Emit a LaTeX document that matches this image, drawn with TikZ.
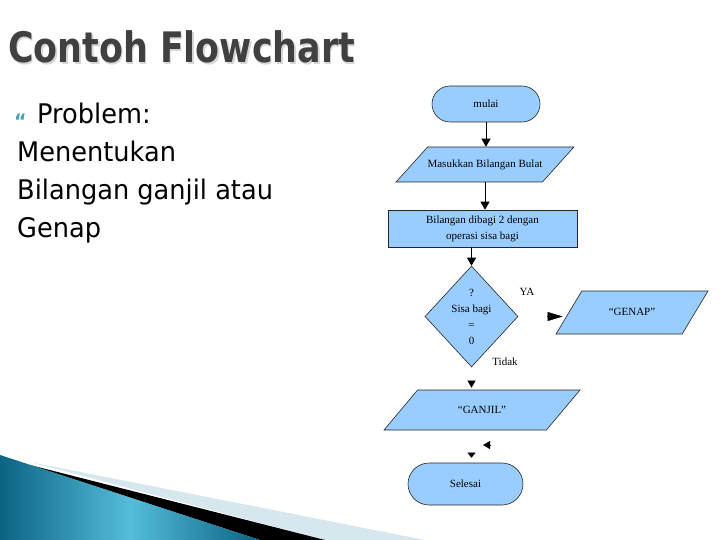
\documentclass[tikz,border=0pt]{standalone}
\usepackage{fontspec}
\setmainfont{Liberation Serif}
\newfontfamily\titlefont[FakeStretch=0.83]{DejaVu Sans}
\newfontfamily\bodyfont[FakeStretch=0.95]{DejaVu Sans}
\usepackage{xcolor}
\definecolor{boxblue}{RGB}{153, 204, 255}
\definecolor{titlegray}{RGB}{64, 64, 64}
\definecolor{shadowgray}{RGB}{215, 215, 215}
\definecolor{bulletteal}{RGB}{72, 160, 178}
\definecolor{tealdark}{RGB}{10, 100, 130}
\definecolor{teallight}{RGB}{85, 188, 218}
\definecolor{bandlight}{RGB}{214, 232, 238}
\usetikzlibrary{arrows.meta, shapes.geometric, shapes.misc}

\tikzset{
  chart/.style={draw=black!85, fill=boxblue, line width=0.6pt, inner sep=0pt,
    align=center, font=\fontsize{11}{16}\selectfont},
  terminal/.style={chart, rounded rectangle},
  iobox/.style={chart, trapezium, trapezium stretches body, text height=8pt, text depth=2pt},
  process/.style={chart, rectangle},
  decision/.style={chart, diamond},
  lbl/.style={font=\fontsize{11}{13}\selectfont, inner sep=0pt},
  arr/.style={-{Triangle[length=8pt, width=9pt]}, line width=0.8pt},
  bodytext/.style={anchor=base west, inner sep=0pt, font=\bodyfont\fontsize{27}{32}\selectfont}
}

\begin{document}
\begin{tikzpicture}[x=1pt, y=-1pt]
    \useasboundingbox (0,0) rectangle (720,540);
    \fill[white] (0,0) rectangle (720,540);

    % corner swoosh
    \fill[bandlight] (30,462) -- (425,540) -- (325,540) -- cycle;
    \fill[black] (30,465) -- (325,540) -- (260,540) -- cycle;
    \shade[left color=tealdark, right color=tealdark, middle color=teallight]
        (0,455) -- (260,540) -- (0,540) -- cycle;

    % heading and problem text
    \node[anchor=base west, inner sep=0pt, text=titlegray, font=\titlefont\bfseries\fontsize{42}{48}\selectfont]
        (title) at (8,63)
        {\makebox[0pt][l]{\hspace{1.5pt}\raisebox{-1.5pt}{\color{shadowgray}Contoh Flowchart}}Contoh Flowchart};
    \node[anchor=base west, inner sep=0pt, text=bulletteal, font=\bodyfont\bfseries\fontsize{20}{20}\selectfont]
        (bullet) at (14,129) {“};
    \node[bodytext] (problem) at (37,124) {Problem:};
    \node[bodytext] (line1) at (17,162) {Menentukan};
    \node[bodytext] (line2) at (17,200) {Bilangan ganjil atau};
    \node[bodytext] (line3) at (17,237) {Genap};

    % flowchart
    \node[terminal, minimum width=108pt, minimum height=36pt] (mulai) at (486,104) {mulai};
    \node[iobox, trapezium left angle=48, trapezium right angle=132, inner ysep=12.5pt,
        minimum width=174pt] (masuk) at (485,164.5) {Masukkan Bilangan Bulat};
    \node[process, minimum width=189pt, minimum height=37pt] (proses) at (482.5,228.5)
        {Bilangan dibagi 2 dengan\\operasi sisa bagi};
    \node[decision, minimum width=93pt, minimum height=101pt] (cek) at (471.5,316.5) {};
    \node[lbl, align=center, font=\fontsize{11}{16}\selectfont] (cektext) at (cek) {?\\Sisa bagi\\=\\0};
    \node[iobox, trapezium left angle=59, trapezium right angle=121, inner ysep=16.5pt,
        minimum width=152pt] (genap) at (632,312.5) {“GENAP”};
    \node[iobox, trapezium left angle=50, trapezium right angle=130, inner ysep=15pt,
        minimum width=196pt] (ganjil) at (482,410) {“GANJIL”};
    \node[terminal, minimum width=115pt, minimum height=42pt] (selesai) at (465.5,484) {Selesai};

    \node[lbl] (ya) at (527,292) {YA};
    \node[lbl] (tidak) at (505,362) {Tidak};

    \coordinate (backR) at (491,445);
    \coordinate (backL) at (483,445);

    \draw[arr] (mulai.south) -- (mulai.south |- masuk.north);
    \draw[arr] (masuk.south) -- (masuk.south |- proses.north);
    \draw[arr] (proses.south -| cek.north) -- (cek.north);
    \draw[-{Triangle[length=15pt, width=9pt]}, shorten <=29pt, shorten >=6pt] (cek.east) -- (cek.east -| genap.west);
    \draw[-{Triangle[length=7pt, width=8pt]}, shorten <=14pt, shorten >=2pt] (cek.south) -- (cek.south |- ganjil.north);
    \draw[-{Triangle[length=5pt, width=8pt]}, shorten <=23pt, shorten >=5pt] (cek.south |- ganjil.south) -- (cek.south |- selesai.north);
    \draw[-{Triangle[length=7pt, width=8pt]}, shorten <=1pt] (backR) -- (backL);
\end{tikzpicture}
\end{document}
